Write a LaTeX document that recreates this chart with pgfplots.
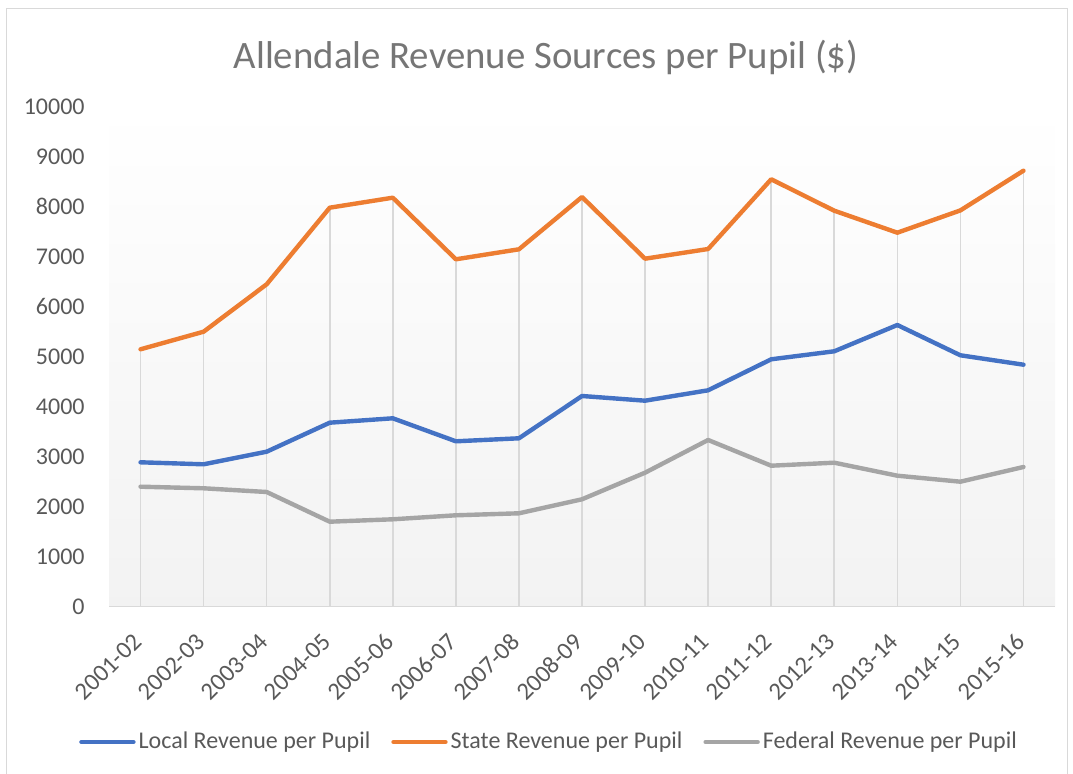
\documentclass[border=0pt]{standalone}
\usepackage{pgfplots}
\pgfplotsset{compat=1.18}
\usepackage{fontspec}
\setmainfont{Carlito}
\definecolor{cblue}{HTML}{4472C4}
\definecolor{corange}{HTML}{ED7D31}
\definecolor{cgray}{HTML}{A5A5A5}
\definecolor{ltext}{HTML}{595959}
\definecolor{ttext}{HTML}{767676}
\definecolor{gline}{HTML}{D9D9D9}
\begin{document}
\begin{tikzpicture}
\useasboundingbox (0,0) rectangle (536.5pt,-387pt);
\draw[gline, line width=0.8pt] (3.25pt,-387pt) -- (3.25pt,-4.25pt) -- (533.75pt,-4.25pt) -- (533.75pt,-387pt);
\node[font=\fontsize{19.4}{23}\selectfont, text=ttext, anchor=base] at (273pt,-34.3pt) {Allendale Revenue Sources per Pupil (\$)};
\begin{axis}[
  at={(54.5pt,-303.25pt)}, anchor=south west,
  scale only axis, width=473pt, height=250pt,
  xmin=-0.5, xmax=14.5, ymin=0, ymax=10000,
  axis x line*=bottom, axis y line*=left,
  x axis line style={draw=gline, line width=0.8pt, -},
  y axis line style={draw=none},
  major tick length=0pt,
  xtick={0,...,14},
  xticklabels={2001-02,2002-03,2003-04,2004-05,2005-06,2006-07,2007-08,2008-09,2009-10,2010-11,2011-12,2012-13,2013-14,2014-15,2015-16},
  ytick={0,1000,...,10000},
  scaled y ticks=false,
  /pgf/number format/assume math mode=true,
  yticklabel={\pgfmathprintnumber[fixed,1000 sep={}]{\tick}},
  tick label style={font=\fontsize{12}{14}\selectfont, text=ltext},
  yticklabel style={anchor=east, inner sep=0pt, xshift=-12pt},
  xticklabel style={inner sep=0pt, xshift=-1.5pt, yshift=-15.5pt, rotate=45, anchor=east, font=\fontsize{12.3}{14}\selectfont},
  axis background/.style={shade, top color=white, bottom color=gray!10},
  clip=false,
  legend columns=3,
  legend style={at={(0.4657,-0.271)}, anchor=center, draw=none, fill=none,
    font=\fontsize{12}{14}\selectfont, text=ltext, inner sep=0pt,
    nodes={inner sep=1.5pt},
    /tikz/every even column/.append style={column sep=9pt}},
  legend image code/.code={\draw[#1, line cap=round] (0pt,0pt) -- (26pt,0pt);},
]
\addplot[ycomb, gline, line width=0.8pt, forget plot] coordinates {
(0,5144) (1,5496) (2,6444) (3,7976) (4,8176) (5,6944) (6,7144) (7,8190) (8,6956) (9,7150) (10,8544) (11,7916) (12,7476) (13,7922) (14,8716)};
\addplot[cblue, line width=2.2pt, line join=round, line cap=round] coordinates {
(0,2884) (1,2844) (2,3096) (3,3676) (4,3764) (5,3304) (6,3364) (7,4210) (8,4116) (9,4324) (10,4944) (11,5104) (12,5630) (13,5024) (14,4836)};
\addlegendentry{Local Revenue per Pupil}
\addplot[corange, line width=2.2pt, line join=round, line cap=round] coordinates {
(0,5144) (1,5496) (2,6444) (3,7976) (4,8176) (5,6944) (6,7144) (7,8190) (8,6956) (9,7150) (10,8544) (11,7916) (12,7476) (13,7922) (14,8716)};
\addlegendentry{State Revenue per Pupil}
\addplot[cgray, line width=2.2pt, line join=round, line cap=round] coordinates {
(0,2396) (1,2364) (2,2290) (3,1696) (4,1744) (5,1824) (6,1864) (7,2144) (8,2676) (9,3330) (10,2816) (11,2876) (12,2616) (13,2496) (14,2790)};
\addlegendentry{Federal Revenue per Pupil}
\end{axis}
\end{tikzpicture}
\end{document}
